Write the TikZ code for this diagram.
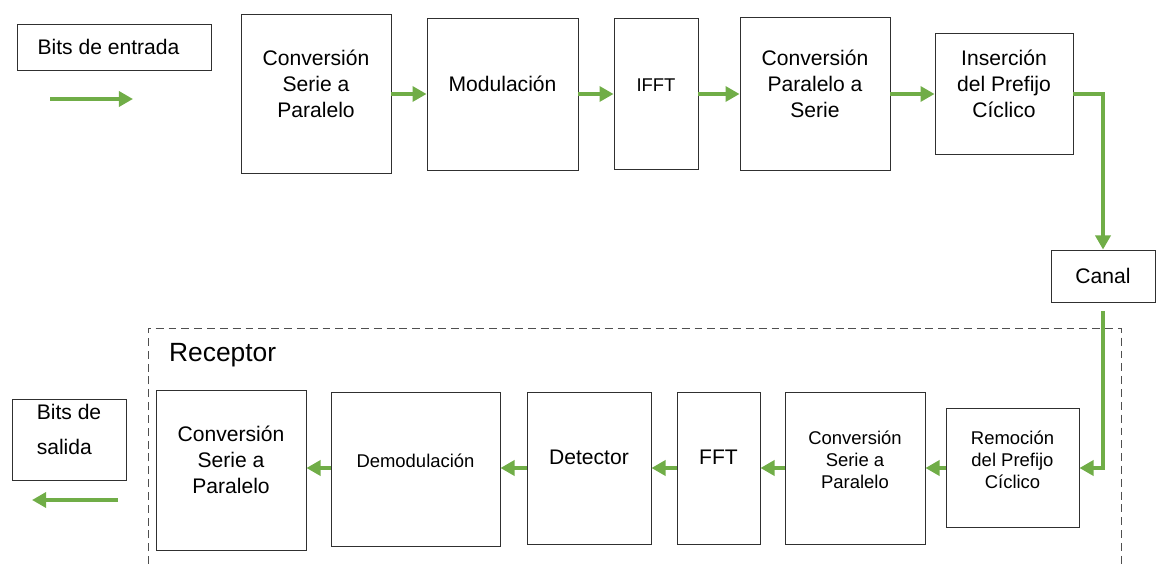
\documentclass[tikz,border=0pt]{standalone}
\usepackage{fontspec}
\setmainfont{Liberation Sans}
\usepackage{tikz}
\usetikzlibrary{arrows.meta}

\definecolor{verde}{HTML}{70AD47}
\definecolor{borde}{HTML}{303030}
% linea vacia al final, sube el texto dentro del bloque
\newcommand{\lineaextra}{\\[-3pt]\mbox{}}

\tikzset{
  bloque/.style={draw=borde, line width=0.5pt, align=center, inner sep=0pt,
    font=\fontsize{12}{14.7}\selectfont},
  chico/.style={font=\fontsize{10.5}{12.5}\selectfont},
  medida/.style n args={2}{minimum width=#1mm, minimum height=#2mm},
  flecha/.style={verde, line width=2.3pt, -{Triangle[length=8pt,width=8.5pt]}}
}

\begin{document}
\begin{tikzpicture}[x=0.2mm, y=-0.2mm]
  \useasboundingbox (0,0) rectangle (1156,564);

  % Transmisor
  \node[bloque, medida={38.8}{9.2}] (entrada) at (114,47) {Bits de entrada\hspace{2.2mm}};
  \node[bloque, medida={30}{31.8}] (sp1) at (316,94) {Conversión\\Serie a\\Paralelo\lineaextra};
  \node[bloque, medida={30.2}{30.4}] (mod) at (502.5,94) {Modulación\lineaextra};
  \node[bloque, chico, medida={16.8}{30.2}] (ifft) at (656,94) {IFFT\lineaextra};
  \node[bloque, medida={30}{30.6}] (ps) at (815,94) {Conversión\\Paralelo a\\Serie\lineaextra};
  \node[bloque, medida={27.6}{24.2}] (ins) at (1004,94) {Inserción\\del Prefijo\\Cíclico\lineaextra};

  % Canal
  \node[bloque, medida={20.8}{10.4}] (canal) at (1103,276) {Canal};

  % Receptor
  \draw[borde!85, line width=0.5pt, dash pattern=on 4.5pt off 2.8pt]
    (148,564) |- (1121,328) -- (1121,564);
  \node[anchor=west, font=\fontsize{15}{18}\selectfont] (receptor) at (163,355) {Receptor};

  \node[bloque, chico, medida={26.6}{23.8}] (rem) at (1012.5,468) {Remoción\\del Prefijo\\Cíclico\lineaextra};
  \node[bloque, chico, medida={28}{30.4}] (sp2) at (855,468) {Conversión\\Serie a\\Paralelo\lineaextra};
  \node[bloque, medida={16.6}{30.4}] (fft) at (718.5,468) {FFT\lineaextra};
  \node[bloque, medida={24.8}{30.4}] (det) at (589,468) {Detector\lineaextra};
  \node[bloque, chico, medida={33.8}{30.8}] (demod) at (415.5,469) {Demodulación\lineaextra};
  \node[bloque, medida={30}{32}] (sp3) at (231,470) {Conversión\\Serie a\\Paralelo\lineaextra};
  \node[bloque, align=left, medida={22.8}{16.2}] (salida) at (69,439.5) {Bits de\\[5pt]salida\hspace{2.5mm}\lineaextra};

  % Flechas
  \coordinate (ein1) at (50,99);
  \coordinate (ein2) at (133,99);
  \coordinate (cbajo) at (1103,311);
  \coordinate (sal1) at (118,500);
  \coordinate (sal2) at (32,500);

  \draw[flecha] (ein1) -- (ein2);
  \draw[flecha] (sp1.east) -- (mod.west);
  \draw[flecha] (mod.east) -- (ifft.west);
  \draw[flecha] (ifft.east) -- (ps.west);
  \draw[flecha] (ps.east) -- (ins.west);
  \draw[flecha] (ins.east) -| (canal.north);
  \draw[flecha] (cbajo) |- (rem.east);
  \draw[flecha] (rem.west) -- (sp2.east);
  \draw[flecha] (sp2.west) -- (fft.east);
  \draw[flecha] (fft.west) -- (det.east);
  \draw[flecha] (det.west) -- (demod.east |- det.west);
  \draw[flecha] (demod.west |- det.west) -- (sp3.east |- det.west);
  \draw[flecha] (sal1) -- (sal2);
\end{tikzpicture}
\end{document}
